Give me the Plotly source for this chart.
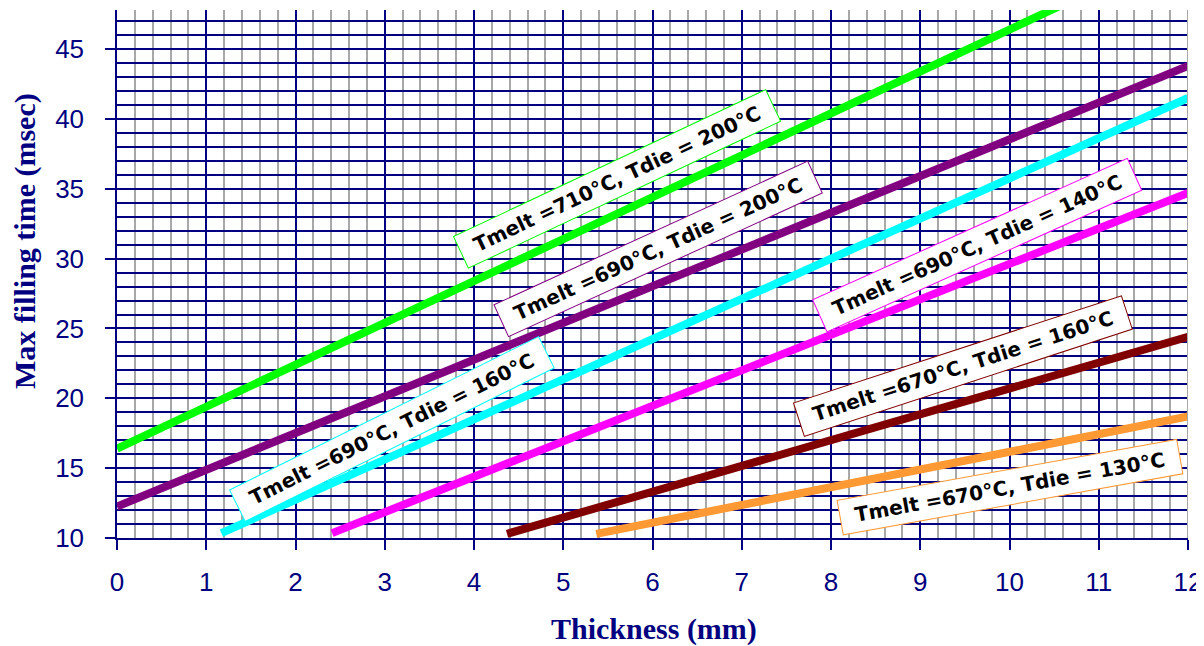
import plotly.graph_objects as go

# ---- data ----
series_names = [
    "Tmelt =710°C, Tdie = 200°C",
    "Tmelt =690°C, Tdie = 200°C",
    "Tmelt =690°C, Tdie = 160°C",
    "Tmelt =690°C, Tdie = 140°C",
    "Tmelt =670°C, Tdie = 160°C",
    "Tmelt =670°C, Tdie = 130°C",
]
series_x = [
    [0.0, 10.6],
    [0.0, 12.0],
    [1.17, 12.0],
    [2.41, 12.0],
    [4.37, 12.0],
    [5.37, 12.0],
]
series_y = [
    [16.4, 48.2],
    [12.25, 43.8],
    [10.35, 41.5],
    [10.35, 34.7],
    [10.3, 24.4],
    [10.3, 18.7],
]
series_colors = ["#00FF00", "#800080", "#00FFFF", "#FF00FF", "#800000", "#FF9933"]

# label anchors (data coordinates) and text angles
label_x = [5.60, 6.06, 3.08, 9.64, 9.48, 10.01]
label_y = [35.71, 30.71, 17.79, 31.0, 22.29, 13.64]
label_angle = [-25.2, -24.6, -26.4, -24.2, -18.1, -10.2]

x_tick_step = 1
x_minor_step = 0.2
y_tick_step = 5
y_minor_step = 1

NAVY = "#000080"
GRAY = "#A8A8A8"

fig = go.Figure()
for name, xs, ys, c in zip(series_names, series_x, series_y, series_colors):
    fig.add_trace(go.Scatter(x=xs, y=ys, mode="lines", name=name,
                             line=dict(color=c, width=8), showlegend=False))

annotations = []
for name, lx, ly, ang, c in zip(series_names, label_x, label_y, label_angle, series_colors):
    annotations.append(dict(
        x=lx, y=ly, xref="x", yref="y", text=name, showarrow=False,
        textangle=ang, xanchor="center", yanchor="middle",
        font=dict(family="DejaVu Sans", size=20, color="black", weight="bold"),
        bgcolor="white", bordercolor=c, borderwidth=1, borderpad=5, width=334,
    ))

annotations.append(dict(
    x=0.5014, y=-0.172, xref="paper", yref="paper", text="<b>Thickness (mm)</b>",
    showarrow=False, xanchor="center", yanchor="middle",
    font=dict(family="Liberation Serif", size=30, color=NAVY)))
annotations.append(dict(
    x=-0.0859, y=0.5625, xref="paper", yref="paper", text="<b>Max filling time (msec)</b>",
    showarrow=False, xanchor="center", yanchor="middle", textangle=-90,
    font=dict(family="Liberation Serif", size=30, color=NAVY)))

# the page body adds an 8px offset, so the figure is 8px smaller and margins shifted
fig.update_layout(
    template="none",
    width=1196, height=638,
    margin=dict(l=109, r=16, t=2, b=108, autoexpand=False),
    paper_bgcolor="white", plot_bgcolor="white",
    annotations=annotations,
    shapes=[dict(type="line", xref="x", yref="paper", x0=12, x1=12, y0=0, y1=1,
                 line=dict(color=GRAY, width=2))],
)
fig.update_xaxes(
    range=[0, 12], tickmode="linear", tick0=0, dtick=x_tick_step, automargin=False,
    showgrid=True, gridcolor=NAVY, gridwidth=1.5,
    minor=dict(tickmode="linear", dtick=x_minor_step, showgrid=True, gridcolor=GRAY,
               gridwidth=1.5, ticks=""),
    ticks="outside", ticklen=10, tickcolor=NAVY, tickwidth=1.5,
    showline=True, linecolor=NAVY, linewidth=1.5,
    tickfont=dict(family="Liberation Sans", size=26, color=NAVY),
    ticklabelstandoff=10, zeroline=False,
)
fig.update_yaxes(
    range=[10, 47.8], tickmode="linear", tick0=0, dtick=y_tick_step, automargin=False,
    showgrid=True, gridcolor=NAVY, gridwidth=1.5,
    minor=dict(tickmode="linear", dtick=y_minor_step, showgrid=True, gridcolor=NAVY,
               gridwidth=1.5, ticks=""),
    ticks="outside", ticklen=10, tickcolor=NAVY, tickwidth=1.5,
    showline=True, linecolor=NAVY, linewidth=1.5,
    tickfont=dict(family="Liberation Sans", size=26, color=NAVY),
    ticklabelstandoff=16, zeroline=False,
)

fig.write_html("out.html")
